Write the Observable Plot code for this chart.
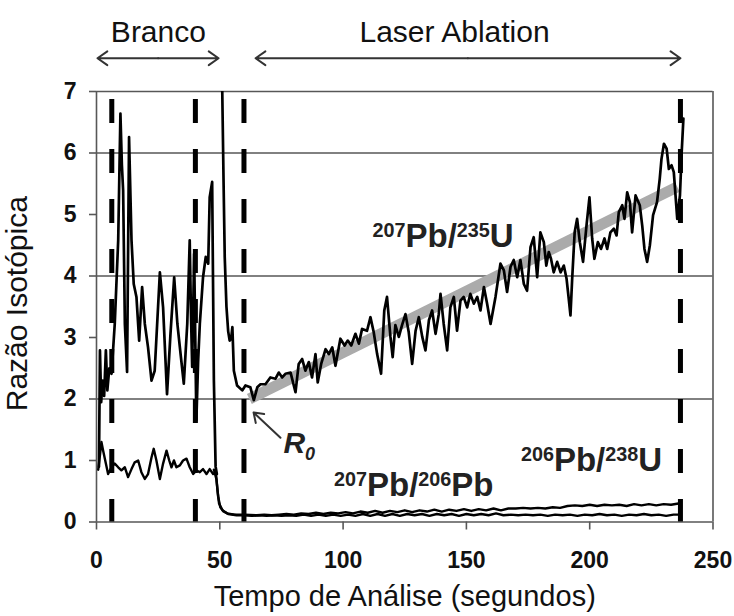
<!DOCTYPE html>
<html><head><meta charset="utf-8">
<script src="https://cdn.jsdelivr.net/npm/d3@7"></script>
<script src="https://cdn.jsdelivr.net/npm/@observablehq/plot@0.6"></script>
<style>html,body{margin:0;padding:0;background:#fff}</style>
</head><body><div id="chart"></div>
<script>
// ---- axis ticks ----
const xTicks = [0, 50, 100, 150, 200, 250];
const yTicks = [0, 1, 2, 3, 4, 5, 6, 7];
const gridY = [2, 4, 6];
const frameY = [0, 7];
const frameX = [0, 250];

// ---- 207Pb/235U (time in s, ratio); null = gap in the trace ----
const t235 = [1.0,1.4,1.9,2.4,3.1,3.8,4.4,5.2,6.1,7.4,8.8,9.7,10.3,10.8,11.5,12.4,13.2,14.2,15.1,16.2,17.3,18.5,19.6,20.9,22.3,23.6,25.7,27.0,28.6,30.0,31.5,32.8,34.1,35.4,36.8,37.8,38.3,38.8,39.6,40.5,41.2,41.9,43.2,44.3,45.3,45.9,46.9,47.6,48.3,48.8,
  49.9,
  51.0,51.5,52.0,52.7,53.4,54.0,54.6,55.1,55.7,57.0,59.1,60.4,62.4,63.8,65.2,66.5,68.5,70.5,72.6,73.9,75.3,76.6,78.7,80.7,82.0,83.4,84.7,86.1,87.4,88.8,89.7,91.1,92.9,94.2,95.6,96.9,98.9,100.6,101.9,103.3,105.0,106.4,107.7,109.7,111.1,112.4,113.8,115.4,116.7,117.8,119.2,120.1,121.2,122.6,123.9,125.3,126.6,128.0,129.4,130.7,132.1,133.4,134.8,136.1,137.5,138.8,139.5,140.8,142.2,143.5,144.9,146.2,147.6,148.9,150.3,151.6,153.0,154.4,155.7,157.1,158.4,159.8,161.8,163.8,165.2,166.5,167.9,169.2,170.6,171.9,173.3,174.6,176.0,177.3,178.7,180.0,181.4,182.4,183.4,184.3,185.4,186.8,188.2,189.5,190.6,191.5,192.2,192.9,193.9,194.9,196.0,197.3,198.7,199.9,201.0,201.9,203.3,204.6,206.0,207.1,208.4,209.8,210.9,211.8,213.2,214.1,215.2,216.3,217.2,218.6,220.3,221.3,222.2,223.3,224.4,225.7,227.3,228.4,229.1,230.1,231.2,232.1,233.2,234.1,234.8,235.5,236.6,237.3,238.0];
const r235 = [0.9,2.79,1.95,2.3,2.05,2.79,2.14,2.5,2.41,3.22,4.58,6.64,5.8,5.39,3.22,2.44,6.26,4.58,3.87,3.66,2.95,3.82,3.22,2.84,2.30,2.46,4.06,3.49,2.08,3.06,3.98,3.22,2.73,2.25,3.22,4.58,3.4,2.52,4.36,1.65,2.6,3.22,3.98,4.31,4.2,5.28,5.53,2.3,0.9,0.78,
  null,
  7.0,5.6,4.31,3.5,3.1,2.95,2.98,3.17,2.46,2.22,2.14,2.22,2.19,1.98,2.19,2.24,2.24,2.35,2.33,2.43,2.35,2.41,2.43,2.11,2.57,2.65,2.46,2.60,2.35,2.73,2.27,2.57,2.81,2.73,2.84,2.54,2.98,2.87,2.95,2.87,3.06,2.90,3.14,3.11,3.33,3.09,2.73,2.41,3.44,3.66,3.01,2.68,3.2,3.01,3.20,3.38,3.09,2.57,3.11,3.33,3.01,2.79,3.28,3.44,3.06,3.38,3.71,3.22,2.79,3.49,3.66,3.11,3.60,3.66,3.49,3.71,3.55,3.66,3.44,3.82,3.55,3.22,3.66,4.2,4.09,3.74,4.15,4.26,3.98,4.26,3.87,3.76,4.47,4.63,3.98,4.71,4.55,4.17,4.39,4.28,4.06,4.23,4.06,4.17,3.96,3.63,3.36,3.96,4.71,4.93,4.55,4.23,4.82,5.28,4.61,4.28,4.55,4.44,4.61,4.44,4.71,4.77,4.66,5.04,5.15,4.93,5.36,5.20,4.71,5.31,5.15,4.82,4.44,4.23,4.50,4.99,5.20,5.58,5.90,6.15,6.07,5.74,5.80,5.69,5.31,4.93,5.31,6.01,6.56];

// ---- 207Pb/206Pb ----
const t206 = [0.7,1.3,2.0,2.7,3.8,4.7,6.1,7.4,8.8,10.1,11.5,12.8,14.2,15.5,16.9,18.2,19.6,20.9,22.3,23.2,24.3,25.7,27.0,28.4,29.5,30.4,31.4,32.4,33.8,35.1,36.5,37.8,39.2,40.5,41.9,43.2,44.6,45.9,47.3,48.4,49.1,49.7,51.1,53.4,56.8,59.5,
  63,66,69,72,75,78,81,84,87,90,93,96,99,102,105,108,111,114,117,120,123,126,129,132,135,138,141,144,147,150,153,156,159,162,165,168,171,174,177,180,183,186,189,192,195,198,201,204,207,210,213,216,219,222,225,228,231,234,237];
const r206 = [0.85,1.05,1.3,1.16,0.95,0.78,0.89,0.95,0.89,0.84,0.89,0.73,0.86,0.97,1.0,0.81,0.70,0.78,1.05,1.19,1.0,0.70,0.95,1.16,1.0,0.89,1.0,0.89,0.92,1.0,1.03,0.89,0.78,0.84,0.81,0.86,0.78,0.86,0.78,0.81,0.51,0.30,0.19,0.13,0.11,0.11,
  0.10,0.11,0.10,0.11,0.10,0.11,0.10,0.12,0.10,0.12,0.10,0.12,0.10,0.12,0.10,0.13,0.10,0.13,0.10,0.13,0.10,0.13,0.11,0.13,0.10,0.13,0.11,0.13,0.10,0.13,0.11,0.13,0.11,0.14,0.11,0.12,0.11,0.12,0.11,0.12,0.10,0.12,0.11,0.12,0.10,0.12,0.11,0.13,0.11,0.12,0.10,0.12,0.11,0.13,0.11,0.12,0.10,0.12,0.12];

// ---- 206Pb/238U ----
const t238 = [47.6,48.6,49.3,50.2,51.5,53,56,60,65,68,71,74,77,80,83,86,89,92,95,98,101,104,107,110,113,116,119,122,125,128,131,134,137,140,143,146,149,152,155,158,161,164,167,170,173,176,179,182,185,188,191,194,197,200,203,206,209,212,215,218,221,224,227,230,233,236,237];
const r238 = [0.85,0.70,0.42,0.24,0.17,0.14,0.12,0.12,0.11,0.12,0.11,0.12,0.13,0.12,0.14,0.13,0.15,0.13,0.15,0.14,0.16,0.14,0.17,0.15,0.18,0.15,0.18,0.16,0.19,0.16,0.19,0.17,0.20,0.17,0.20,0.18,0.21,0.18,0.21,0.19,0.22,0.19,0.22,0.22,0.23,0.22,0.23,0.22,0.24,0.23,0.26,0.27,0.26,0.28,0.26,0.28,0.27,0.28,0.26,0.29,0.27,0.29,0.27,0.29,0.28,0.30,0.30];

// ---- fitted trend (grey band), interval markers ----
const fitT = [62, 235.5];
const fitR = [2.0, 5.45];
const dashT = [6.2, 40.1, 59.8, 236.8];

// ---- annotations (data coordinates) ----
const phaseLabels = [
  {text: "Branco", x: 25.1, y: 7.80},
  {text: "Laser Ablation", x: 145.2, y: 7.80}
];
const phaseArrows = [
  {x1: 25, x2: 0.4, y: 7.54}, {x1: 25, x2: 49.5, y: 7.54},
  {x1: 150.6, x2: 64.5, y: 7.54}, {x1: 150.6, x2: 236.8, y: 7.54}
];
const ratioLabels = [
  {text: "{207}Pb/{235}U", x: 111.9, y: 4.47},
  {text: "{207}Pb/{206}Pb", x: 96.3, y: 0.43},
  {text: "{206}Pb/{238}U", x: 172.1, y: 0.83}
];
const r0Label = [{text: "R[0]", x: 75.8, y: 1.13}];
const r0Arrow = [{x1: 74.6, y1: 1.37, x2: 63.7, y2: 1.78}];
const axisTitleX = [{text: "Tempo de Análise (segundos)", x: 125, y: -1.36}];
const axisTitleY = [{text: "Razão Isotópica", x: -28, y: 3.55}];

const zip = (t, r) => t.map((v, i) => ({t: v, r: r[i]}));
const d235 = zip(t235, r235), d206 = zip(t206, r206), d238 = zip(t238, r238), dFit = zip(fitT, fitR);

const FONT = "'Liberation Sans', Arial, Helvetica, sans-serif";
const GRAY = "#575757";

const chart = Plot.plot({
  width: 734, height: 616,
  marginLeft: 96, marginRight: 21.5, marginTop: 91, marginBottom: 94.5,
  style: {fontFamily: FONT, fontSize: "23px", fontWeight: "bold", color: "#111", background: "#fff", overflow: "visible"},
  x: {domain: [0, 250], ticks: xTicks, tickFormat: "d", tickSize: 8, tickPadding: 22, label: null},
  y: {domain: [0, 7], ticks: yTicks, tickFormat: "d", tickSize: 7, tickPadding: 13, label: null},
  marks: [
    Plot.ruleY(gridY, {stroke: GRAY, strokeWidth: 1.6}),
    Plot.ruleY(frameY, {stroke: GRAY, strokeWidth: 1.6}),
    Plot.ruleX(frameX, {stroke: GRAY, strokeWidth: 1.6}),
    Plot.line(dFit, {x: "t", y: "r", stroke: "#ababab", strokeWidth: 11, strokeLinecap: "butt"}),
    Plot.line(d206, {x: "t", y: "r", stroke: "#000", strokeWidth: 2.4, strokeLinejoin: "round"}),
    Plot.line(d238, {x: "t", y: "r", stroke: "#000", strokeWidth: 2.4, strokeLinejoin: "round"}),
    Plot.line(d235, {x: "t", y: "r", stroke: "#000", strokeWidth: 2.7, strokeLinejoin: "round", clip: true}),
    Plot.ruleX(dashT, {x: d => d, y1: 7, y2: 0, stroke: "#000", strokeWidth: 5, strokeDasharray: "24,26", strokeDashoffset: 42}),
    Plot.arrow(phaseArrows, {x1: "x1", x2: "x2", y1: "y", y2: "y", stroke: "#333", strokeWidth: 2, headLength: 9, headAngle: 70}),
    Plot.arrow(r0Arrow, {x1: "x1", y1: "y1", x2: "x2", y2: "y2", stroke: "#333", strokeWidth: 2, headLength: 8, headAngle: 70}),
    Plot.text(phaseLabels, {x: "x", y: "y", text: "text", fontSize: 30, fontWeight: "normal", fill: "#111", lineAnchor: "bottom"}),
    Plot.text(ratioLabels, {x: "x", y: "y", text: "text", fontSize: 33, fontWeight: "bold", fill: "#222", textAnchor: "start", lineAnchor: "bottom"}),
    Plot.text(r0Label, {x: "x", y: "y", text: "text", fontSize: 30, fontWeight: "bold", fontStyle: "italic", fill: "#222", textAnchor: "start", lineAnchor: "bottom"}),
    Plot.text(axisTitleX, {x: "x", y: "y", text: "text", fontSize: 29, fontWeight: "normal", fill: "#111", lineAnchor: "bottom"}),
    Plot.text(axisTitleY, {x: "x", y: "y", text: "text", fontSize: 30, fontWeight: "normal", fill: "#111", lineAnchor: "bottom", rotate: -90})
  ]
});

document.getElementById("chart").appendChild(chart);

// axis tick strokes in grey
chart.querySelectorAll('[aria-label^="x-axis"] line, [aria-label^="x-axis"] path, [aria-label^="y-axis"] line, [aria-label^="y-axis"] path')
  .forEach(e => { e.setAttribute("stroke", GRAY); e.style.strokeWidth = "1.6"; });

// superscripts {..} and subscripts [..]
chart.querySelectorAll("text").forEach(el => {
  const raw = el.textContent;
  if (!/[{\[]/.test(raw)) return;
  const fs = parseFloat(getComputedStyle(el).fontSize);
  const re = /\{([^}]*)\}|\[([^\]]*)\]|([^{\[]+)/g;
  el.textContent = "";
  let shift = 0, m;
  while ((m = re.exec(raw))) {
    const ts = document.createElementNS("http://www.w3.org/2000/svg", "tspan");
    let target = 0;
    if (m[1] !== undefined) { target = -0.3 * fs; ts.setAttribute("font-size", 0.6 * fs); ts.textContent = m[1]; }
    else if (m[2] !== undefined) { target = 0.24 * fs; ts.setAttribute("font-size", 0.6 * fs); ts.textContent = m[2]; }
    else ts.textContent = m[3];
    if (target !== shift) ts.setAttribute("dy", target - shift);
    shift = target;
    el.appendChild(ts);
  }
});
</script></body></html>
